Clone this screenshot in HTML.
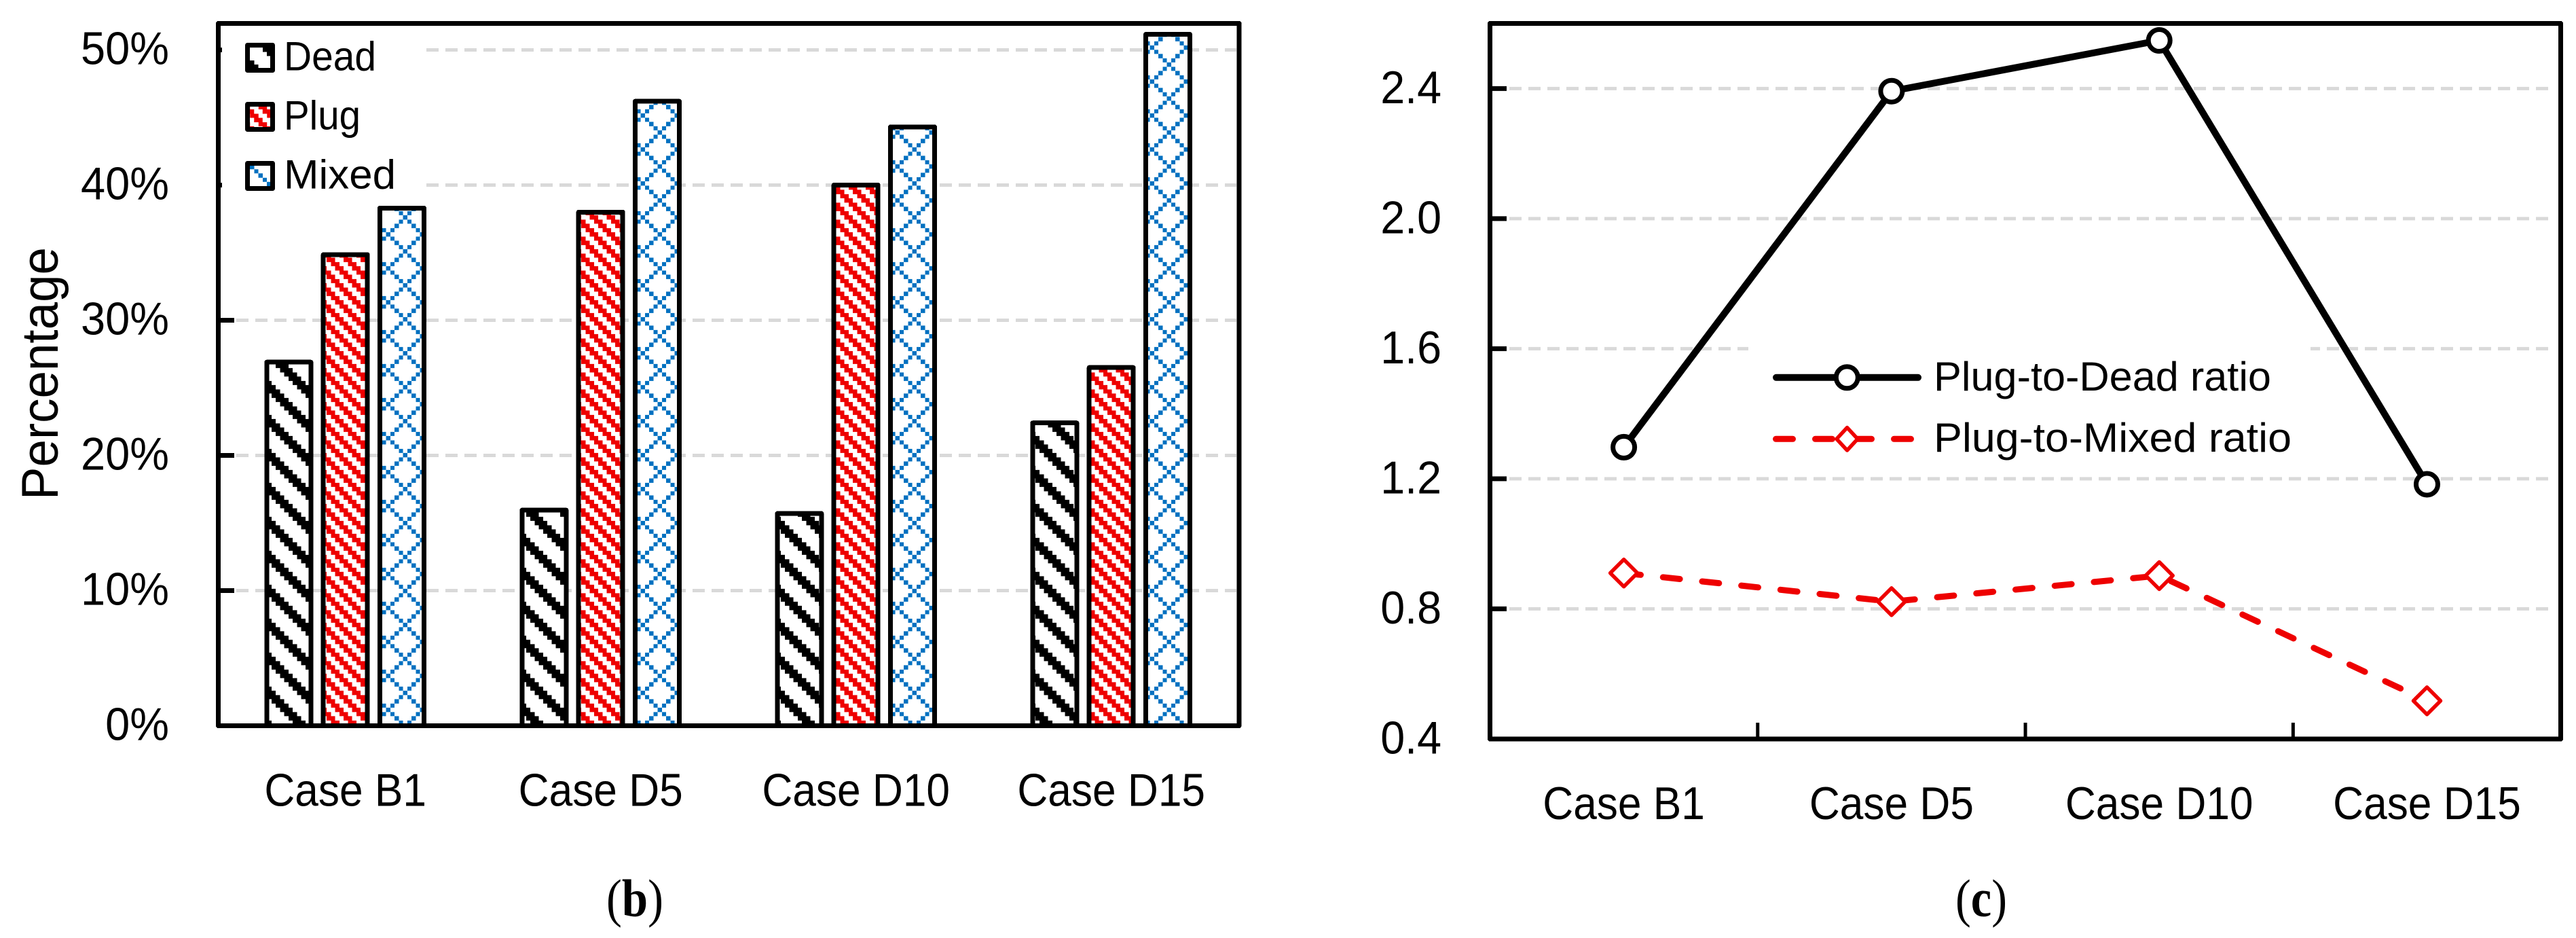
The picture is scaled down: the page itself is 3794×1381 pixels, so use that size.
<!DOCTYPE html>
<html lang="en">
<head>
<meta charset="utf-8">
<title>Percentage and ratio charts</title>
<style>
html,body{margin:0;padding:0;background:#fff;}
svg{display:block;}
text{font-family:"Liberation Sans",sans-serif;fill:#000;}
.serif{font-family:"Liberation Serif",serif;}
</style>
</head>
<body>
<svg id="figure" xmlns="http://www.w3.org/2000/svg" width="3794" height="1381" viewBox="0 0 3794 1381">
  <defs id="defs"></defs>
  <rect x="0" y="0" width="3794" height="1381" fill="#fff"/>

  <g id="b-chart">
    <g id="b-ticks"></g>
    <g id="b-grid"></g>
    <rect x="327" y="38" width="295" height="262" fill="#fff"/>
    <g id="b-bars"></g>
    <rect id="b-frame" x="321.5" y="34.5" width="1503.5" height="1034" fill="none" stroke="#000" stroke-width="7" stroke-linejoin="round" shape-rendering="crispEdges"/>
    <g id="b-ylabels"></g>
    <g id="b-xlabels"></g>
    <text transform="translate(85 550) rotate(-90)" text-anchor="middle" font-size="76" textLength="372" lengthAdjust="spacingAndGlyphs">Percentage</text>
    <g>
      <g>
        <rect x="364.5" y="66.5" width="37" height="37" fill="url(#swatch-dead)" stroke="#000" stroke-width="7" stroke-linejoin="round"/>
        <text x="418" y="103.3" font-size="60" textLength="136" lengthAdjust="spacingAndGlyphs">Dead</text>
      </g>
      <g>
        <rect x="364.5" y="153.5" width="37" height="37" fill="url(#swatch-plug)" stroke="#000" stroke-width="7" stroke-linejoin="round"/>
        <text x="418" y="190.7" font-size="60" textLength="113" lengthAdjust="spacingAndGlyphs">Plug</text>
      </g>
      <g>
        <rect x="364.5" y="240.5" width="37" height="37" fill="url(#swatch-mixed)" stroke="#000" stroke-width="7" stroke-linejoin="round"/>
        <text x="418" y="277.7" font-size="60" textLength="165" lengthAdjust="spacingAndGlyphs">Mixed</text>
      </g>
    </g>
    <text class="serif" x="893" y="1349" font-size="78" textLength="84" lengthAdjust="spacingAndGlyphs">(<tspan font-weight="bold">b</tspan>)</text>
  </g>

  <g id="c-chart">
    <g id="c-grid"></g>
    <rect x="2575" y="505" width="828" height="185" fill="#fff"/>
    <g id="c-ticks"></g>
    <rect x="2194.5" y="34.5" width="1577" height="1053.5" fill="none" stroke="#000" stroke-width="7" stroke-linejoin="round" shape-rendering="crispEdges"/>
    <g id="c-series"></g>
    <g id="c-ylabels"></g>
    <g id="c-xlabels"></g>
    <g>
      <g>
        <line x1="2616" y1="555.8" x2="2825" y2="555.8" stroke="#000" stroke-width="10" stroke-linecap="round"/>
        <circle cx="2720.3" cy="555.8" r="16" fill="#fff" stroke="#000" stroke-width="7"/>
        <text x="2848" y="575" font-size="60" textLength="497" lengthAdjust="spacingAndGlyphs">Plug-to-Dead ratio</text>
      </g>
      <g>
        <line x1="2615.5" y1="646.3" x2="2816" y2="646.3" stroke="#EE0000" stroke-width="9" stroke-linecap="round" stroke-dasharray="25 33"/>
        <polygon points="2720.5,629.5 2736,646.3 2720.5,663 2705,646.3" fill="#fff" stroke="#EE0000" stroke-width="5.5" stroke-linejoin="round"/>
        <text x="2848" y="665" font-size="60" textLength="527" lengthAdjust="spacingAndGlyphs">Plug-to-Mixed ratio</text>
      </g>
    </g>
    <text class="serif" x="2880" y="1349" font-size="78" textLength="76" lengthAdjust="spacingAndGlyphs">(<tspan font-weight="bold">c</tspan>)</text>
  </g>
</svg>

<script>
// ---- chart data ----
const categories = ['Case B1', 'Case D5', 'Case D10', 'Case D15'];
const deadValues = [26.9, 15.95, 15.7, 22.4];
const plugValues = [34.85, 38.0, 40.0, 26.5];
const mixedValues = [38.3, 46.2, 44.3, 51.15];
const percentTicks = [0, 10, 20, 30, 40, 50];
const percentTickLabels = ['0%', '10%', '20%', '30%', '40%', '50%'];

const plugToDead = [1.297, 2.392, 2.548, 1.183];
const plugToMixed = [0.91, 0.822, 0.902, 0.517];
const ratioTicks = [0.4, 0.8, 1.2, 1.6, 2.0, 2.4];
const ratioTickLabels = ['0.4', '0.8', '1.2', '1.6', '2.0', '2.4'];

// ---- axis functions ----
function yPercent(v) { return 1068.5 - v * 19.9; }
function xGroup(i) { return 508.7 + i * 376; }
function xBar(i, s) { return xGroup(i) + (s - 1) * 83.3; }
function xRatio(i) { return 2391.6 + i * 394.3; }
function yRatio(v) { return 1087.8 - (v - 0.4) * 478.7; }

// ---- helpers ----
const NS = 'http://www.w3.org/2000/svg';
function make(tag, props, parent) {
  const n = document.createElementNS(NS, tag);
  for (const k in props) n.setAttribute(k, props[k]);
  if (parent) parent.appendChild(n);
  return n;
}
function mod(n, m) { return ((n % m) + m) % m; }
const byId = function (id) { return document.getElementById(id); };

// ---- hatch patterns (8 x 8 blocks of 6.25px) ----
const BLOCK = 6.25;
const rules = {
  dead: function (c, r) { const d = mod(c - r, 8); return d === 7 || d === 0 || d === 1; },
  plug: function (c, r) { const d = mod(c - r, 4); return d === 0 || d === 1; },
  mixed: function (c, r) { return mod(c - r, 8) === 0 || mod(c + r, 8) === 0; },
  line: function (c, r) { return mod(c - r, 8) === 0; }
};
function addPattern(id, rule, color, x0, y0) {
  const p = make('pattern', {
    id: id, patternUnits: 'userSpaceOnUse', width: 50, height: 50,
    patternTransform: 'translate(' + mod(x0, 50) + ' ' + mod(y0, 50) + ')'
  }, byId('defs'));
  make('rect', { x: 0, y: 0, width: 50, height: 50, fill: '#fff' }, p);
  for (let r = 0; r < 8; r++) {
    for (let c = 0; c < 8; c++) {
      if (rule(c, r)) {
        make('rect', { x: c * BLOCK, y: r * BLOCK, width: BLOCK, height: BLOCK, fill: color, 'shape-rendering': 'crispEdges' }, p);
      }
    }
  }
}
addPattern('hatch-dead', rules.dead, '#000000', 593.54, 916.875);
addPattern('hatch-plug', rules.plug, '#EE0000', 593.54, 916.875);
addPattern('hatch-mixed', rules.mixed, '#0070C0', 593.54, 916.875);
addPattern('swatch-dead', rules.dead, '#000000', 393, 70);
addPattern('swatch-plug', rules.plug, '#EE0000', 361.75, 161);
addPattern('swatch-mixed', rules.line, '#0070C0', 368, 242.75);

// ---- chart b: ticks, grid, labels ----
percentTicks.forEach(function (v, i) {
  const y = yPercent(v);
  if (v > 0) {
    const tick = make('line', { x1: 321, y1: y, x2: 345, y2: y, stroke: '#000', 'stroke-width': 7 }, byId('b-ticks'));
    
    
    const grid = make('line', { x1: 348, y1: y, x2: 1821, y2: y, stroke: '#D9D9D9', 'stroke-width': 5, 'stroke-dasharray': '18 10' }, byId('b-grid'));
    
    
  }
  const lab = make('text', { x: 249, y: y + 21, 'font-size': 68, 'text-anchor': 'end' }, byId('b-ylabels'));
  lab.textContent = percentTickLabels[i];
  
  
  lab.setAttribute('textLength', lab.getComputedTextLength() * 0.955);
  lab.setAttribute('lengthAdjust', 'spacingAndGlyphs');
});

// ---- chart b: bars ----
const seriesKeys = ['dead', 'plug', 'mixed'];
const seriesValues = [deadValues, plugValues, mixedValues];
seriesValues.forEach(function (values, s) {
  values.forEach(function (v, i) {
    const top = yPercent(v);
    const bar = make('rect', {
      x: xBar(i, s) - 32.5, y: top, width: 65, height: yPercent(0) - top,
      fill: 'url(#hatch-' + seriesKeys[s] + ')', stroke: '#000', 'stroke-width': 7, 'stroke-linejoin': 'round', 'shape-rendering': 'crispEdges'
    }, byId('b-bars'));
    
    
  });
});
categories.forEach(function (name, i) {
  const lab = make('text', { x: xGroup(i), y: 1186.5, 'font-size': 68, 'text-anchor': 'middle' }, byId('b-xlabels'));
  lab.textContent = name;
  
  
  lab.setAttribute('textLength', lab.getComputedTextLength() * 0.915);
  lab.setAttribute('lengthAdjust', 'spacingAndGlyphs');
});

// ---- chart c: ticks, grid, labels ----
ratioTicks.forEach(function (v, i) {
  const y = yRatio(v);
  if (i > 0) {
    const grid = make('line', { x1: 2223, y1: y, x2: 3760, y2: y, stroke: '#D9D9D9', 'stroke-width': 5, 'stroke-dasharray': '18 10' }, byId('c-grid'));
    
    
    const tick = make('line', { x1: 2194.5, y1: y, x2: 2219, y2: y, stroke: '#000', 'stroke-width': 7 }, byId('c-ticks'));
    
    
  }
  const lab = make('text', { x: 2123, y: y + 21.5, 'font-size': 68, 'text-anchor': 'end' }, byId('c-ylabels'));
  lab.textContent = ratioTickLabels[i];
  
  
  lab.setAttribute('textLength', lab.getComputedTextLength() * 0.95);
  lab.setAttribute('lengthAdjust', 'spacingAndGlyphs');
});
categories.forEach(function (name, i) {
  if (i > 0) {
    const xt = (xRatio(i - 1) + xRatio(i)) / 2;
    const tick = make('line', { x1: xt, y1: 1064, x2: xt, y2: 1088, stroke: '#000', 'stroke-width': 5 }, byId('c-ticks'));
    
    
  }
  const lab = make('text', { x: xRatio(i), y: 1206, 'font-size': 68, 'text-anchor': 'middle' }, byId('c-xlabels'));
  lab.textContent = name;
  
  
  lab.setAttribute('textLength', lab.getComputedTextLength() * 0.915);
  lab.setAttribute('lengthAdjust', 'spacingAndGlyphs');
});

// ---- chart c: series ----
const deadPts = plugToDead.map(function (v, i) { return xRatio(i) + ',' + yRatio(v); }).join(' ');
const deadLine = make('polyline', { points: deadPts, fill: 'none', stroke: '#000', 'stroke-width': 10, 'stroke-linejoin': 'round' }, byId('c-series'));



const mixedPts = plugToMixed.map(function (v, i) { return xRatio(i) + ',' + yRatio(v); }).join(' ');
const mixedLine = make('polyline', { points: mixedPts, fill: 'none', stroke: '#EE0000', 'stroke-width': 9, 'stroke-linecap': 'round', 'stroke-linejoin': 'round', 'stroke-dasharray': '25 33' }, byId('c-series'));



plugToDead.forEach(function (v, i) {
  const m = make('circle', { cx: xRatio(i), cy: yRatio(v), r: 16, fill: '#fff', stroke: '#000', 'stroke-width': 7 }, byId('c-series'));
  
  
});
plugToMixed.forEach(function (v, i) {
  const cx = xRatio(i), cy = yRatio(v), w = 20, h = 20;
  const pts = [cx, cy - h, cx + w, cy, cx, cy + h, cx - w, cy].join(' ');
  const m = make('polygon', { points: pts, fill: '#fff', stroke: '#EE0000', 'stroke-width': 5.5, 'stroke-linejoin': 'round' }, byId('c-series'));
  
  
});
</script>
</body>
</html>
